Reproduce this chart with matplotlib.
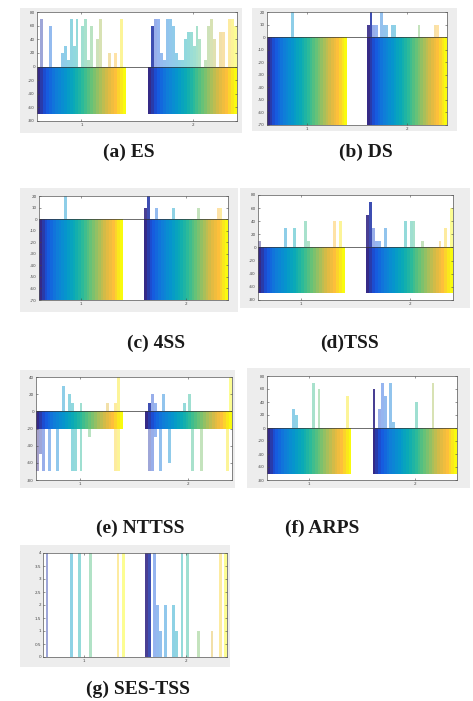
import numpy as np
import matplotlib
matplotlib.use("Agg")
import matplotlib.pyplot as plt
from matplotlib.colors import LinearSegmentedColormap

W, H = 473, 701
N_SERIES = 30          # bars per group
GROUPS = [1, 2]

# ---------------- data ----------------
# (a) ES
a_neg = [-70, -70]
a_pos1_idx = [1, 4, 8, 9, 10, 11, 12, 13, 15, 16, 17, 18, 20, 21, 24, 26, 28]
a_pos1_val = [70, 60, 20, 30, 10, 70, 30, 70, 60, 70, 10, 60, 40, 70, 20, 20, 70]
a_pos2_idx = [1, 2, 3, 4, 5, 6, 7, 8, 9, 10, 11, 12, 13, 14, 15, 16, 17, 19, 20, 21, 22, 24, 25, 27, 28, 29]
a_pos2_val = [60, 70, 70, 20, 10, 70, 70, 60, 20, 10, 10, 40, 50, 50, 30, 60, 40, 10, 60, 70, 40, 50, 50, 70, 70, 60]
a_yticks = [80, 60, 40, 20, 0, -20, -40, -60, -80]

# (b) DS
b_neg = [-70, -70]
b_pos1_idx = [9]
b_pos1_val = [20]
b_pos2_idx = [0, 1, 2, 3, 5, 6, 7, 9, 10, 19, 25, 26]
b_pos2_val = [10, 20, 10, 10, 20, 10, 10, 10, 10, 10, 10, 10]
b_yticks = [20, 10, 0, -10, -20, -30, -40, -50, -60, -70]

# (c) 4SS
c_neg = [-70, -70]
c_pos1_idx = [9]
c_pos1_val = [20]
c_pos2_idx = [0, 1, 4, 10, 19, 26, 27]
c_pos2_val = [10, 20, 10, 10, 10, 10, 10]
c_yticks = [20, 10, 0, -10, -20, -30, -40, -50, -60, -70]

# (d) TSS
d_neg = [-70, -70]
d_pos1_idx = [0, 9, 12, 16, 17, 26, 28]
d_pos1_val = [10, 30, 30, 40, 10, 40, 40]
d_pos2_idx = [0, 1, 2, 3, 4, 6, 13, 15, 16, 19, 25, 27, 29]
d_pos2_val = [50, 70, 30, 10, 10, 30, 40, 40, 40, 10, 10, 30, 60]
d_yticks = [80, 60, 40, 20, 0, -20, -40, -60, -80]

# (e) NTTSS
e_neg = [-20, -20]
e_pos1_idx = [9, 11, 12, 15, 24, 27, 28]
e_pos1_val = [30, 20, 10, 10, 10, 10, 40]
e_pos2_idx = [1, 2, 3, 6, 13, 15, 29]
e_pos2_val = [10, 20, 10, 20, 10, 20, 40]
e_deep1_idx = [0, 1, 2, 4, 7, 12, 13, 15, 18, 27, 28]
e_deep1_val = [-70, -50, -70, -70, -70, -70, -70, -70, -30, -70, -70]
e_deep2_idx = [1, 2, 3, 5, 8, 16, 19, 28]
e_deep2_val = [-70, -70, -30, -70, -60, -70, -70, -70]
e_yticks = [40, 20, 0, -20, -40, -60, -80]

# (f) ARPS
f_neg = [-70, -70]
f_pos1_idx = [9, 10, 16, 18, 28]
f_pos1_val = [30, 20, 70, 60, 50]
f_pos2_idx = [0, 2, 3, 4, 6, 7, 15, 21]
f_pos2_val = [60, 30, 70, 50, 70, 10, 40, 70]
f_yticks = [80, 60, 40, 20, 0, -20, -40, -60, -80]

# (g) SES-TSS
g_pos1_idx = [1, 10, 13, 17, 27, 29]
g_pos1_val = [4, 4, 4, 4, 4, 4]
g_pos2_idx = [0, 1, 3, 4, 5, 7, 10, 11, 13, 15, 19, 24, 27, 29]
g_pos2_val = [4, 4, 4, 2, 1, 2, 2, 1, 4, 4, 1, 1, 4, 4]
g_yticks = [4, 3.5, 3, 2.5, 2, 1.5, 1, 0.5, 0]

labels = ["(a) ES", "(b) DS", "(c) 4SS", "(d)TSS", "(e) NTTSS", "(f) ARPS", "(g) SES-TSS"]

# ---------------- colours ----------------
parula = LinearSegmentedColormap.from_list("parula", [
    (0.00, (0.2081, 0.1663, 0.5292)),
    (0.08, (0.0900, 0.3300, 0.8800)),
    (0.20, (0.0600, 0.4900, 0.8500)),
    (0.32, (0.0200, 0.5900, 0.8000)),
    (0.42, (0.0400, 0.6700, 0.7100)),
    (0.52, (0.1700, 0.7300, 0.6000)),
    (0.62, (0.4000, 0.7600, 0.4700)),
    (0.72, (0.6500, 0.7500, 0.3600)),
    (0.82, (0.8800, 0.7300, 0.2600)),
    (0.90, (0.9950, 0.7500, 0.2300)),
    (1.00, (0.9763, 0.9831, 0.0538)),
])

def color(i):
    return parula(i / (N_SERIES - 1))

def xpos(group, i):
    return group - 0.4 + (i + 0.5) * 0.8 / N_SERIES

BW = 0.8 / N_SERIES

# ---------------- layout (pixels, top-left origin) ----------------
panels = [
    dict(grey=(20, 8, 242, 133), ax=(37, 12, 237, 121), ylim=(-80, 80), yt=a_yticks, neg=a_neg,
         pos=[(a_pos1_idx, a_pos1_val), (a_pos2_idx, a_pos2_val)], lab=(129, 152)),
    dict(grey=(252, 8, 457, 131), ax=(267, 12, 447, 125), ylim=(-70, 20), yt=b_yticks, neg=b_neg,
         pos=[(b_pos1_idx, b_pos1_val), (b_pos2_idx, b_pos2_val)], lab=(366, 152)),
    dict(grey=(20, 188, 238, 312), ax=(39, 196, 228, 300), ylim=(-70, 20), yt=c_yticks, neg=c_neg,
         pos=[(c_pos1_idx, c_pos1_val), (c_pos2_idx, c_pos2_val)], lab=(156, 343)),
    dict(grey=(240, 188, 470, 308), ax=(258, 195, 453, 300), ylim=(-80, 80), yt=d_yticks, neg=d_neg,
         pos=[(d_pos1_idx, d_pos1_val), (d_pos2_idx, d_pos2_val)], lab=(349, 343)),
    dict(grey=(20, 370, 235, 488), ax=(36, 377, 232, 480), ylim=(-80, 40), yt=e_yticks, neg=e_neg,
         pos=[(e_pos1_idx, e_pos1_val), (e_pos2_idx, e_pos2_val)],
         deep=[(e_deep1_idx, e_deep1_val), (e_deep2_idx, e_deep2_val)], lab=(140, 528)),
    dict(grey=(247, 368, 470, 488), ax=(267, 376, 457, 480), ylim=(-80, 80), yt=f_yticks, neg=f_neg,
         pos=[(f_pos1_idx, f_pos1_val), (f_pos2_idx, f_pos2_val)], lab=(322, 528)),
    dict(grey=(20, 545, 230, 667), ax=(43, 553, 227, 657), ylim=(0, 4), yt=g_yticks, neg=None,
         pos=[(g_pos1_idx, g_pos1_val), (g_pos2_idx, g_pos2_val)], lab=(138, 689)),
]

def frect(x0, y0, x1, y1):
    return [x0 / W, 1 - y1 / H, (x1 - x0) / W, (y1 - y0) / H]

fig = plt.figure(figsize=(W / 100, H / 100), dpi=100, facecolor="white")

for p, lab in zip(panels, labels):
    bg = fig.add_axes(frect(*p["grey"]), zorder=0)
    bg.set_facecolor("#ededed")
    bg.set_xticks([]); bg.set_yticks([])
    for s in bg.spines.values():
        s.set_visible(False)

    ax = fig.add_axes(frect(*p["ax"]), zorder=1)
    ax.set_facecolor("white")
    ax.set_xlim(0.6, 2.4)
    ax.set_ylim(*p["ylim"])

    # deeper negative bars (NTTSS)
    if "deep" in p:
        for g, (idx, val) in zip(GROUPS, p["deep"]):
            for i, v in zip(idx, val):
                ax.bar(xpos(g, i), v, BW, color=color(i), alpha=0.45, linewidth=0)
    # negative gradient block
    if p["neg"] is not None:
        for g, nv in zip(GROUPS, p["neg"]):
            for i in range(N_SERIES):
                ax.bar(xpos(g, i), nv, BW * 1.02, color=color(i), linewidth=0)
    # positive bars
    for gi, (g, (idx, val)) in enumerate(zip(GROUPS, p["pos"])):
        for i, v in zip(idx, val):
            a = 0.9 if (gi == 1 and i <= 1) else 0.45
            ax.bar(xpos(g, i), v, BW, color=color(i), alpha=a, linewidth=0)

    ax.axhline(0, color="#333333", lw=0.5)
    ax.set_xticks(GROUPS)
    ax.set_xticklabels(["1", "2"])
    ax.set_yticks(p["yt"])
    ax.set_yticklabels([("%g" % t) for t in p["yt"]])
    ax.tick_params(direction="in", length=1.5, width=0.4, labelsize=3, pad=1.5,
                   colors="#444444", top=True, right=True)
    for s in ax.spines.values():
        s.set_color("#555555")
        s.set_linewidth(0.5)

    fig.text(p["lab"][0] / W, 1 - p["lab"][1] / H, lab, ha="center", va="center",
             fontsize=14, fontweight="bold", family="Liberation Serif", color="#1a1a1a")

fig.savefig("out.png", dpi=100, facecolor="white")
